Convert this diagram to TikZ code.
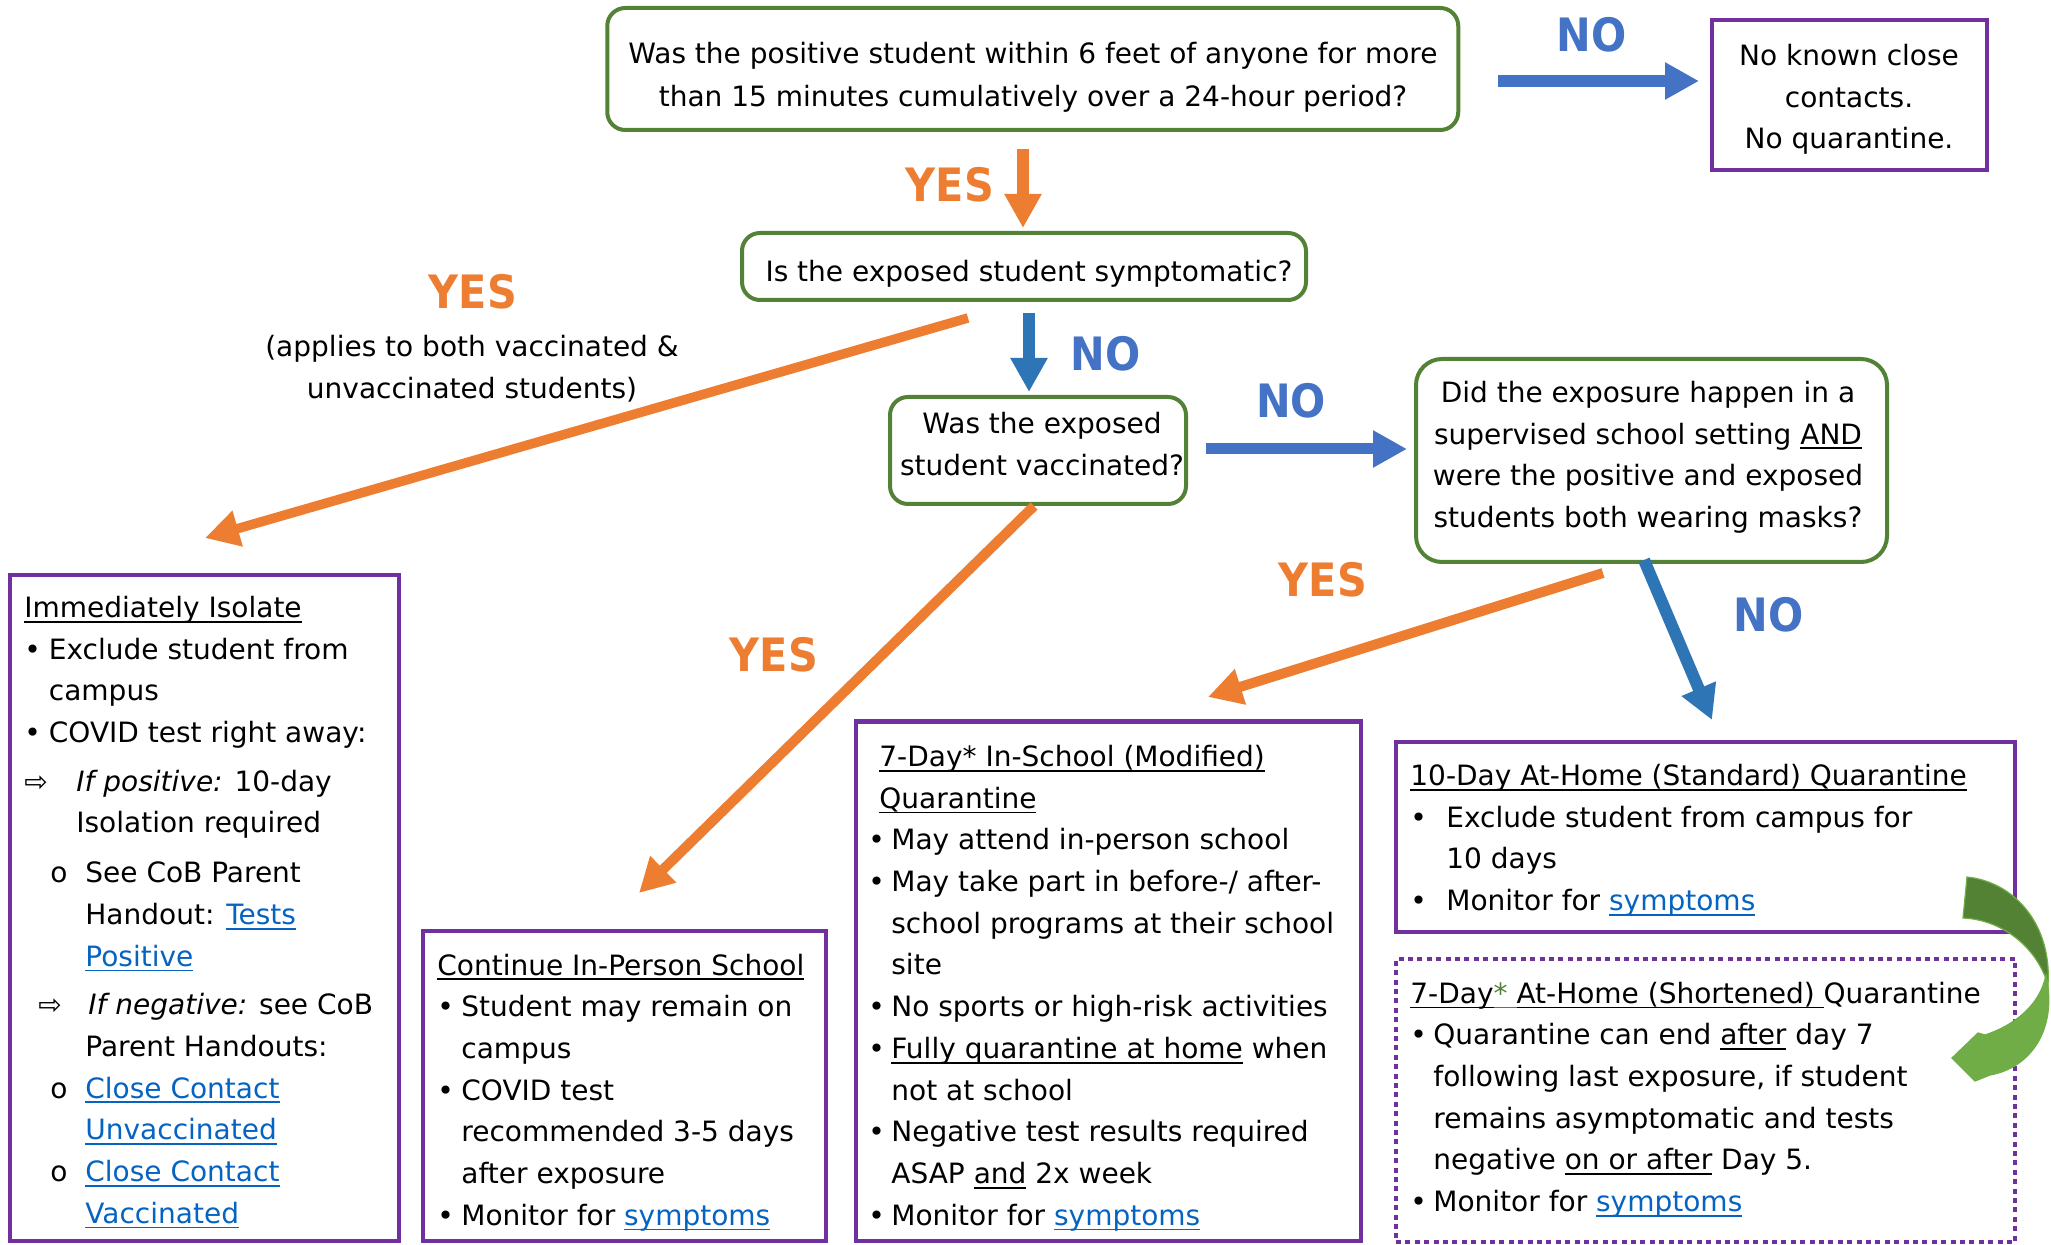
\documentclass[tikz,border=0pt]{standalone}
\usepackage{fontspec}
\setmainfont{DejaVu Sans}
\newfontfamily\lblfont[FakeStretch=0.9]{DejaVu Sans}
\usetikzlibrary{arrows.meta}
\definecolor{qgreen}{HTML}{538135}
\definecolor{ppurple}{HTML}{7030A0}
\definecolor{aorange}{HTML}{ED7D31}
\definecolor{lblue}{HTML}{4472C4}
\definecolor{ablue}{HTML}{2E75B6}
\definecolor{linkblue}{HTML}{0563C1}
\definecolor{gdark}{HTML}{548235}
\definecolor{glight}{HTML}{70AD47}
\newlength\ulwd
\newcommand\uline[1]{\settowidth\ulwd{#1}\rlap{\rule[-2.6pt]{\ulwd}{0.9pt}}#1}
\newcommand\lnk[1]{{\color{linkblue}\uline{#1}}}
\newcommand\bul[1]{\makebox[#1][l]{•}}
\newcommand\fstrut{\rule{0pt}{11pt}}
\begin{document}
\begin{tikzpicture}[x=0.5pt,y=-0.5pt,
  qbox/.style={draw=qgreen, line width=2pt, rounded corners=9pt, inner sep=0pt},
  pbox/.style={draw=ppurple, line width=2.2pt, inner sep=0pt},
  dotbox/.style={draw=ppurple, line width=2.4pt, dash pattern=on 2.5pt off 2.2pt, inner sep=0pt},
  txt/.style={inner sep=0pt, font=\fontsize{14}{20.85}\selectfont},
  lbl/.style={inner sep=0pt, font=\lblfont\bfseries\fontsize{23}{23}\selectfont},
  arr/.style={-{Triangle[width=17.5pt,length=17pt]}},
  oarr/.style={arr, draw=aorange},
  barr/.style={arr, draw=ablue}]
\useasboundingbox (0,0) rectangle (2051,1245);

% ---------- boxes ----------
\node[qbox, minimum width=425.5pt, minimum height=61pt] (q1) at (1032.75,69) {};
\node[qbox, minimum width=282pt, minimum height=33.5pt] (q2) at (1024,266.5) {};
\node[qbox, minimum width=148pt, minimum height=53.5pt] (q3) at (1038,450.5) {};
\node[qbox, rounded corners=13pt, minimum width=235.5pt, minimum height=101.5pt] (q4) at (1651.5,460.5) {};
\node[pbox, minimum width=137.5pt, minimum height=75pt] (nk) at (1849.5,95) {};
\node[pbox, minimum width=194.5pt, minimum height=333pt] (iso) at (204.5,908) {};
\node[pbox, minimum width=201.5pt, minimum height=155pt] (cont) at (624.5,1086) {};
\node[pbox, minimum width=252.5pt, minimum height=259.75pt] (mod) at (1108.5,981.25) {};
\node[pbox, minimum width=309.5pt, minimum height=95pt] (std) at (1705.5,837) {};
\node[dotbox, minimum width=309.5pt, minimum height=141.5pt] (shrt) at (1705.5,1100.5) {};

% ---------- question texts ----------
\node[txt, font=\fontsize{14}{21.5}\selectfont, align=center, anchor=north] (q1t) at (1033,41)
  {\fstrut Was the positive student within 6 feet of anyone for more\\than 15 minutes cumulatively over a 24-hour period?};
\node[txt, anchor=base] (q2t) at (1029,282) {Is the exposed student symptomatic?};
\node[txt, align=center, anchor=north] (q3t) at (1042,411) {\fstrut Was the exposed\\student vaccinated?};
\node[txt, align=center, anchor=north] (q4t) at (1648,380)
  {\fstrut Did the exposure happen in a\\supervised school setting \uline{AND}\\were the positive and exposed\\students both wearing masks?};
\node[txt, align=center, anchor=north] (nkt) at (1849,43) {\fstrut No known close\\contacts.\\No quarantine.};
\node[txt, align=center, anchor=north] (appl) at (472,334) {\fstrut (applies to both vaccinated \&\\unvaccinated students)};

% ---------- YES / NO labels ----------
\node[lbl, text=aorange, anchor=base] (yes1) at (950,202) {YES};
\node[lbl, text=aorange, anchor=base] (yes2) at (473,309) {YES};
\node[lbl, text=lblue, anchor=base] (no1) at (1591.5,52) {NO};
\node[lbl, text=lblue, anchor=base] (no2) at (1105.5,371) {NO};
\node[lbl, text=lblue, anchor=base] (no3) at (1291,418) {NO};
\node[lbl, text=aorange, anchor=base] (yes3) at (1323,597) {YES};
\node[lbl, text=lblue, anchor=base] (no4) at (1768.5,632) {NO};
\node[lbl, text=aorange, anchor=base] (yes4) at (774,672) {YES};

% ---------- box contents ----------
\node[txt, align=left, anchor=north west] (isot) at (24,595) {\fstrut\uline{Immediately Isolate}\\
\bul{12.25pt}Exclude student from\\
\hspace*{12.25pt}campus\\
\bul{12.25pt}COVID test right away:\\[3.4pt]
\makebox[26pt][l]{⇨}\textit{If positive:} 10-day\\
\hspace*{26pt}Isolation required\\[4.15pt]
\hspace*{13pt}\makebox[17.5pt][l]{o}See CoB Parent\\
\hspace*{30.5pt}Handout: \lnk{Tests}\\
\hspace*{30.5pt}\lnk{Positive}\\[3.4pt]
\hspace*{7pt}\makebox[25pt][l]{⇨}\textit{If negative:} see CoB\\
\hspace*{30.5pt}Parent Handouts:\\
\hspace*{13pt}\makebox[17.5pt][l]{o}\lnk{Close Contact}\\
\hspace*{30.5pt}\lnk{Unvaccinated}\\
\hspace*{13pt}\makebox[17.5pt][l]{o}\lnk{Close Contact}\\
\hspace*{30.5pt}\lnk{Vaccinated}};

\node[txt, align=left, anchor=north west] (contt) at (437,952.6) {\fstrut\uline{Continue In-Person School}\\
\bul{12pt}Student may remain on\\
\hspace*{12pt}campus\\
\bul{12pt}COVID test\\
\hspace*{12pt}recommended 3-5 days\\
\hspace*{12pt}after exposure\\
\bul{12pt}Monitor for \lnk{symptoms}};

\node[txt, align=left, anchor=north west] (modt) at (868,744) {\fstrut\hspace*{5.5pt}\uline{7-Day* In-School (Modified)}\\
\hspace*{5.5pt}\uline{Quarantine}\\
\bul{11.5pt}May attend in-person school\\
\bul{11.5pt}May take part in before-/ after-\\
\hspace*{11.5pt}school programs at their school\\
\hspace*{11.5pt}site\\
\bul{11.5pt}No sports or high-risk activities\\
\bul{11.5pt}\uline{Fully quarantine at home} when\\
\hspace*{11.5pt}not at school\\
\bul{11.5pt}Negative test results required\\
\hspace*{11.5pt}ASAP \uline{and} 2x week\\
\bul{11.5pt}Monitor for \lnk{symptoms}};

\node[txt, align=left, anchor=north west] (stdt) at (1410,763) {\fstrut\uline{10-Day At-Home (Standard) Quarantine}\\
\bul{18pt}Exclude student from campus for\\
\hspace*{18pt}10 days\\
\bul{18pt}Monitor for \lnk{symptoms}};

\node[txt, align=left, anchor=north west] (shrtt) at (1410,980.7) {\fstrut\uline{7-Day}{\color{qgreen}\uline{*~}}\uline{At-Home (Shortened)~}Quarantine\\
\bul{11.5pt}Quarantine can end \uline{after} day 7\\
\hspace*{11.5pt}following last exposure, if student\\
\hspace*{11.5pt}remains asymptomatic and tests\\
\hspace*{11.5pt}negative \uline{on or after} Day 5.\\
\bul{11.5pt}Monitor for \lnk{symptoms}};

% ---------- connectors ----------
\coordinate (a1s) at (1498,81);   \coordinate (a1e) at (1699,81);
\coordinate (a2s) at (1023,149);  \coordinate (a2e) at (1023,228);
\coordinate (a3s) at (1029,313);  \coordinate (a3e) at (1029,392);
\coordinate (a4s) at (1206,449);  \coordinate (a4e) at (1407,449);
\coordinate (a5s) at (968,318);   \coordinate (a5e) at (205,538);
\coordinate (a6s) at (1034,506);  \coordinate (a6e) at (639,893);
\coordinate (a7s) at (1603,573);  \coordinate (a7e) at (1208,697);
\coordinate (a8s) at (1644,560);  \coordinate (a8e) at (1712,720);

\draw[arr, draw=lblue, line width=6pt] (a1s) -- (a1e);
\draw[oarr, line width=5.75pt] (a2s) -- (a2e);
\draw[barr, line width=6pt] (a3s) -- (a3e);
\draw[arr, draw=lblue, line width=5.5pt] (a4s) -- (a4e);
\draw[oarr, line width=4.75pt] (a5s) -- (a5e);
\draw[oarr, line width=5pt] (a6s) -- (a6e);
\draw[oarr, line width=5pt] (a7s) -- (a7e);
\draw[barr, line width=6pt] (a8s) -- (a8e);

% ---------- green curved arrow ----------
\fill[gdark, draw=glight, line width=0.6pt]
  (1967,877) .. controls (2015,882) and (2052,925) .. (2048,985)
  .. controls (2038,950) and (2005,920) .. (1963,918) -- cycle;
\fill[glight, draw=glight, line width=0.6pt]
  (2046,975) .. controls (2058,1030) and (2030,1068) .. (1990,1075)
  -- (1975,1081) -- (1952,1058) -- (1978,1033) -- (1985,1035)
  .. controls (2015,1025) and (2040,1005) .. (2046,975) -- cycle;
\end{tikzpicture}
\end{document}
